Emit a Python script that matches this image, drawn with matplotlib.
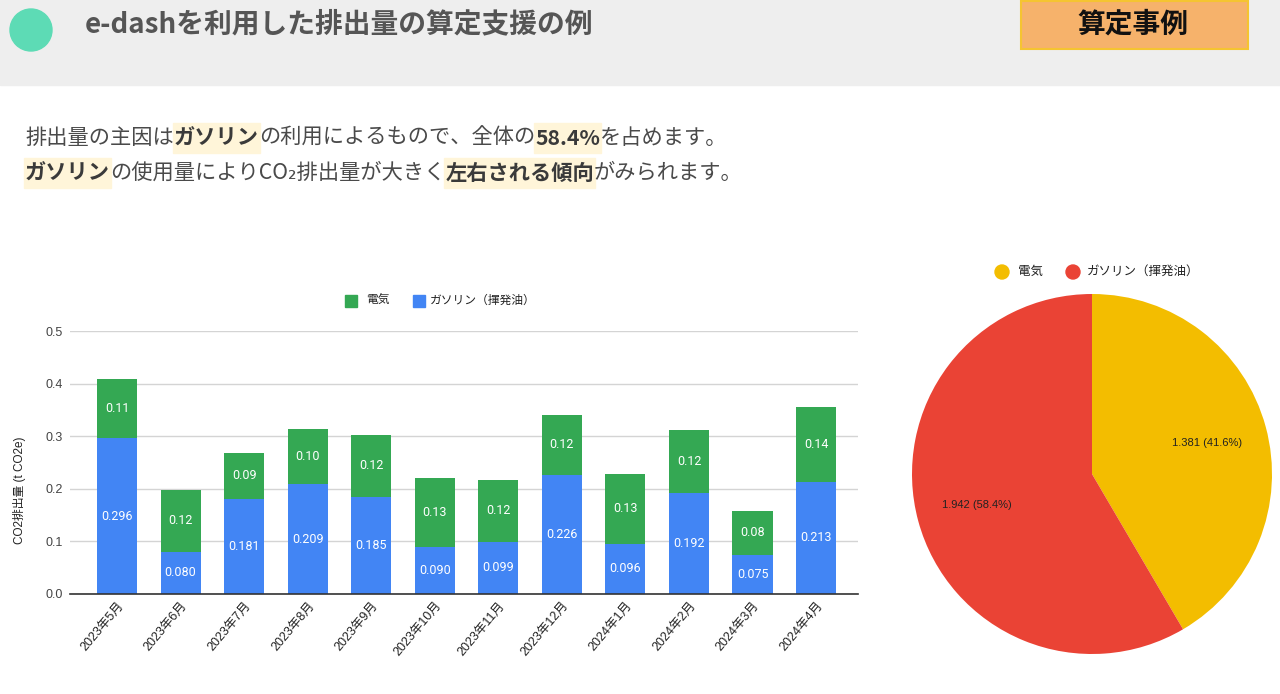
import matplotlib
matplotlib.use('Agg')
import matplotlib.pyplot as plt
from matplotlib.patches import Rectangle, Circle
import numpy as np

# ---------------- data ----------------
months = ['2023年5月', '2023年6月', '2023年7月', '2023年8月', '2023年9月', '2023年10月',
          '2023年11月', '2023年12月', '2024年1月', '2024年2月', '2024年3月', '2024年4月']
gasoline = [0.296, 0.080, 0.181, 0.209, 0.185, 0.090, 0.099, 0.226, 0.096, 0.192, 0.075, 0.213]
electricity = [0.113, 0.118, 0.088, 0.104, 0.118, 0.130, 0.118, 0.115, 0.132, 0.120, 0.082, 0.143]
series_names = ['電気', 'ガソリン（揮発油）']
pie_values = [1.381, 1.942]
yticks = [0.0, 0.1, 0.2, 0.3, 0.4, 0.5]

GREEN, BLUE = '#34a853', '#4285f4'
YELLOW, RED = '#f3bd00', '#ea4335'

JP = ['Noto Sans CJK JP', 'DejaVu Sans']
LAT = ['Liberation Sans', 'Noto Sans CJK JP', 'DejaVu Sans']
plt.rcParams['font.family'] = LAT

W, H = 1280, 694
fig = plt.figure(figsize=(W / 100, H / 100), dpi=100)
fig.patch.set_facecolor('white')

# overlay in pixel coordinates (y downward)
ov = fig.add_axes([0, 0, 1, 1], zorder=-1)
ov.set_xlim(0, W)
ov.set_ylim(H, 0)
ov.axis('off')

# header
ov.add_patch(Rectangle((0, 0), W, 85, color='#eeeeee', zorder=1))
ov.add_patch(Circle((31, 30), 21, color='#5ddbb5', zorder=2))
ov.text(85, 24, 'e-dashを利用した排出量の算定支援の例', fontsize=20, fontweight='bold',
        family=JP, color='#555555', va='center', ha='left', zorder=3)
ov.add_patch(Rectangle((1021, 1), 227, 48, facecolor='#f6b26b', edgecolor='#f5c431',
                       lw=1.5, zorder=2))
ov.text(1133, 25, '算定事例', fontsize=20, fontweight='bold', family=JP,
        color='#111111', va='center', ha='center', zorder=3)

# body text with bold highlighted segments
fig.canvas.draw()
rend = fig.canvas.get_renderer()


def seg_line(x, y, parts, size=15.3):
    for txt, bold in parts:
        t = ov.text(x, y, txt, fontsize=size, fontweight='bold' if bold else 'normal',
                    family=JP, color='#3a3a3a' if bold else '#4a4a4a',
                    va='center', ha='left', zorder=3)
        bb = t.get_window_extent(renderer=rend)
        if bold:
            ov.add_patch(Rectangle((x - 1, y - 15), bb.width + 2, 30,
                                   color='#fff5d9', zorder=1.5))
        x += bb.width


seg_line(25, 138, [('排出量の主因は', False), ('ガソリン', True),
                   ('の利用によるもので、全体の', False), ('58.4%', True),
                   ('を占めます。', False)])
seg_line(25, 173, [('ガソリン', True), ('の使用量によりCO₂排出量が大きく', False),
                   ('左右される傾向', True), ('がみられます。', False)])

# ---------------- bar chart ----------------
L, R, T, B = 70, 858, 331, 594
ax = fig.add_axes([L / W, 1 - B / H, (R - L) / W, (B - T) / H])
x = np.arange(len(months))
bw = 0.63
b1 = ax.bar(x, gasoline, bw, color=BLUE, zorder=3)
b2 = ax.bar(x, electricity, bw, bottom=gasoline, color=GREEN, zorder=3)
ax.bar_label(b1, labels=[f'{v:.3f}' for v in gasoline], label_type='center',
             color='white', fontsize=9, family=['Roboto', 'DejaVu Sans'])
ax.bar_label(b2, labels=[f'{v:.2f}' for v in electricity], label_type='center',
             color='white', fontsize=9, family=['Roboto', 'DejaVu Sans'])
ax.set_ylim(0, 0.5)
ax.set_xlim(-0.74, 11.66)
ax.set_yticks(yticks, [f'{v:.1f}' for v in yticks])
ax.grid(axis='y', color='#d4d4d4', lw=1, zorder=0)
ax.set_axisbelow(True)
for s in ['top', 'right', 'left']:
    ax.spines[s].set_visible(False)
ax.spines['bottom'].set_color('#333333')
ax.spines['bottom'].set_linewidth(1.2)
ax.spines['bottom'].set_zorder(4)
ax.tick_params(axis='y', length=0, pad=5, labelsize=9, labelcolor='#444444')
ax.tick_params(axis='x', length=0, pad=4, labelsize=9, labelcolor='#222222')
ax.set_xticks(x, months, rotation=50, ha='right', rotation_mode='anchor')
ax.set_facecolor('none')

fig.text(20 / W, 1 - 490 / H, 'CO2排出量 (t CO2e)', rotation=90, fontsize=8.5,
         color='#222222', ha='center', va='center')

# bar legend
ov.add_patch(Rectangle((345, 295), 12, 12, color=GREEN, zorder=3))
ov.text(366, 301, series_names[0], fontsize=8.5, color='#222222', va='center', zorder=3)
ov.add_patch(Rectangle((413, 295), 12, 12, color=BLUE, zorder=3))
ov.text(430, 301, series_names[1], fontsize=8.5, color='#222222', va='center', zorder=3)

# ---------------- pie chart ----------------
cx, cy, rad = 1092, 474, 180
pax = fig.add_axes([(cx - rad) / W, 1 - (cy + rad) / H, 2 * rad / W, 2 * rad / H])
total = sum(pie_values)
pax.pie(pie_values, colors=[YELLOW, RED], startangle=90, counterclock=False,
        autopct=lambda p: f'{p * total / 100:.3f} ({p:.1f}%)', pctdistance=0.66,
        textprops=dict(fontsize=8, color='#222222'))
pax.set_xlim(-1, 1)
pax.set_ylim(-1, 1)

# pie legend
ov.add_patch(Circle((1002, 272), 7, color=YELLOW, zorder=3))
ov.text(1018, 272, series_names[0], fontsize=9, color='#222222', va='center', zorder=3)
ov.add_patch(Circle((1073, 272), 7, color=RED, zorder=3))
ov.text(1087, 272, series_names[1], fontsize=9, color='#222222', va='center', zorder=3)

fig.savefig('out.png', dpi=100)
